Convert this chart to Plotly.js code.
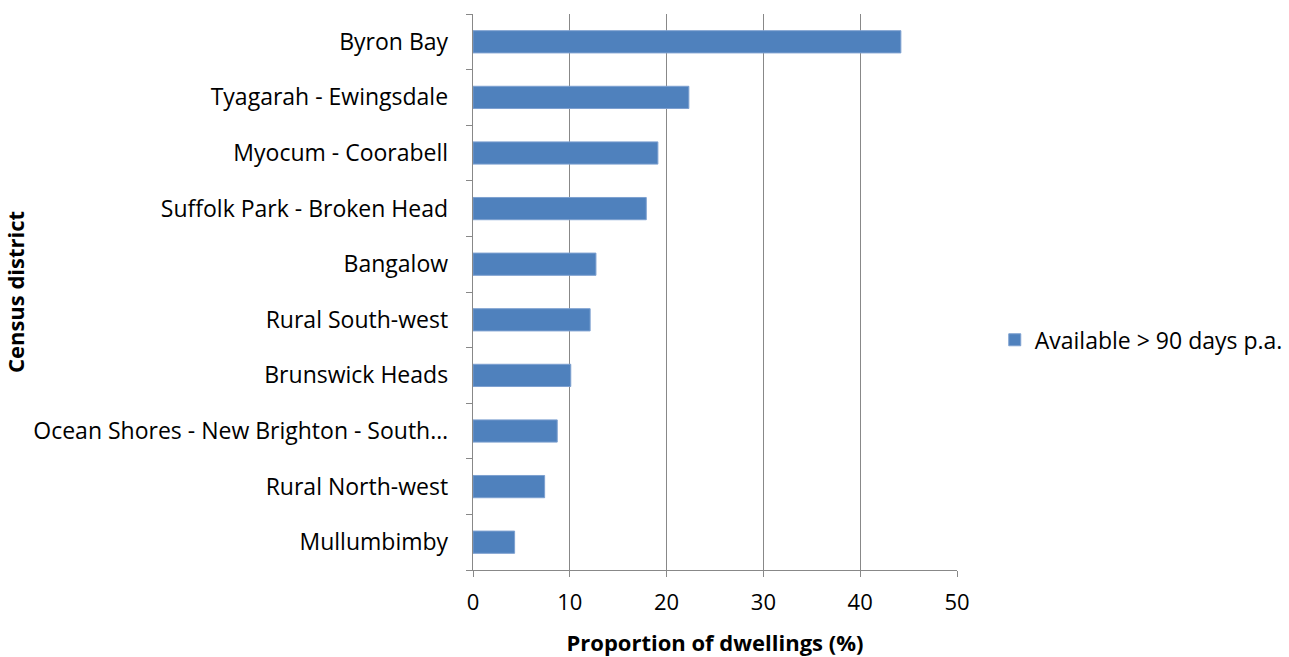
<!DOCTYPE html>
<html>
<head>
<meta charset="utf-8">
<script src="https://cdn.plot.ly/plotly-3.0.1.min.js"></script>
<style>html,body{margin:0;padding:0;background:#fff;}#chart{width:1289px;height:657px;}</style>
</head>
<body>
<div id="chart"></div>
<script>
const categories = [
  "Mullumbimby",
  "Rural North-west",
  "Ocean Shores - New Brighton - South…",
  "Brunswick Heads",
  "Rural South-west",
  "Bangalow",
  "Suffolk Park - Broken Head",
  "Myocum - Coorabell",
  "Tyagarah - Ewingsdale",
  "Byron Bay"
];
const values = [4.3, 7.4, 8.7, 10.1, 12.1, 12.7, 17.9, 19.1, 22.3, 44.2];
const seriesName = "Available > 90 days p.a.";
const xTicks = [0, 10, 20, 30, 40, 50];

const font = "Open Sans, Lato, sans-serif";
const trace = {
  type: "bar",
  orientation: "h",
  y: categories,
  x: values,
  name: seriesName,
  width: 0.4,
  marker: {color: "#4F81BD", line: {color: "#7DA0D0", width: 1}},
  hoverinfo: "x+y"
};
const layout = {
  width: 1289, height: 657,
  margin: {l: 473, r: 332, t: 14, b: 87, autoexpand: false},
  paper_bgcolor: "#fff", plot_bgcolor: "#fff",
  font: {family: font, size: 23, color: "#000"},
  showlegend: true,
  legend: {x: 1.078, xanchor: "left", y: 0.414, yanchor: "middle", font: {size: 23}, bgcolor: "rgba(0,0,0,0)", itemwidth: 30},
  bargap: 0.6,
  xaxis: {
    range: [0, 50], tickvals: xTicks, ticktext: xTicks.map(String),
    showgrid: true, gridcolor: "#888888", gridwidth: 1.3,
    zeroline: false, showline: true, linecolor: "#888888", linewidth: 1.3,
    ticks: "outside", ticklen: 6, tickcolor: "#888888",
    tickfont: {size: 22}, ticklabelstandoff: 6,
    title: {text: "<b>Proportion of dwellings (%)</b>", font: {size: 22}, standoff: 22},
    automargin: false, fixedrange: true
  },
  yaxis: {
    type: "category", categoryorder: "array", categoryarray: categories,
    range: [-0.5, 9.5],
    showgrid: false, zeroline: false, showline: true, linecolor: "#888888", linewidth: 1.3,
    ticks: "outside", ticklen: 6, tickcolor: "#888888", tickson: "boundaries",
    tickfont: {size: 23}, ticklabelstandoff: 19,
    title: {text: "<b>Census district</b>", font: {size: 22}, standoff: 7},
    automargin: false, fixedrange: true
  }
};
Plotly.newPlot("chart", [trace], layout, {displayModeBar: false, staticPlot: true});
</script>
</body>
</html>
